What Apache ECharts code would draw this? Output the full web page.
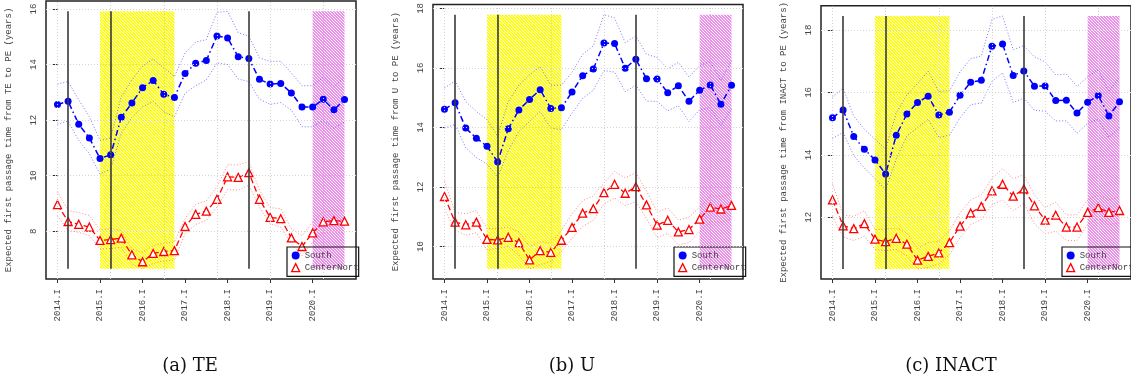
<!DOCTYPE html>
<html>
<head>
<meta charset="utf-8">
<script src="https://cdn.jsdelivr.net/npm/echarts@6/dist/echarts.min.js"></script>
<style>
  html, body { margin: 0; padding: 0; background: #fff; }
  #chart { width: 1131px; height: 377px; }
</style>
</head>
<body>
<div id="chart"></div>
<script>
// quarters 2014.I .. 2020.IV
var quarterIdx = [0, 1, 2, 3, 4, 5, 6, 7, 8, 9, 10, 11, 12, 13, 14, 15, 16, 17, 18, 19, 20, 21, 22, 23, 24, 25, 26, 27];
var tickPos = [0, 4, 8, 12, 16, 20, 24];
var tickLabels = ["2014.I", "2015.I", "2016.I", "2017.I", "2018.I", "2019.I", "2020.I"];
var gridX = [0, 5, 10, 15, 20, 25];
var eventLines = [1, 5, 18];
var yellowBand = [4, 11];
var magentaBand = [24, 27];
var legendNames = ["South", "CenterNorth"];

// TE
var teSouth = [12.56, 12.68, 11.85, 11.36, 10.62, 10.75, 12.10, 12.62, 13.17, 13.43, 12.93, 12.82, 13.68, 14.05, 14.15, 15.03, 14.96, 14.28, 14.22, 13.47, 13.30, 13.32, 12.98, 12.47, 12.47, 12.75, 12.37, 12.74];
var teSouthHi = [13.30, 13.39, 12.73, 12.12, 11.27, 11.35, 12.85, 13.45, 13.94, 14.20, 13.88, 13.57, 14.42, 14.81, 14.90, 15.88, 15.92, 15.15, 15.03, 14.24, 14.12, 14.12, 13.70, 13.24, 13.24, 13.55, 13.19, 13.55];
var teSouthLo = [11.85, 11.97, 11.27, 10.79, 10.06, 10.24, 11.52, 12.10, 12.48, 12.67, 12.30, 12.12, 12.97, 13.24, 13.45, 14.06, 14.00, 13.48, 13.39, 12.75, 12.57, 12.63, 12.36, 11.76, 11.76, 12.00, 11.70, 11.94];
var teNorth = [8.96, 8.35, 8.25, 8.15, 7.67, 7.70, 7.75, 7.15, 6.90, 7.20, 7.27, 7.30, 8.17, 8.61, 8.72, 9.15, 9.96, 9.94, 10.11, 9.15, 8.50, 8.45, 7.76, 7.45, 7.94, 8.34, 8.38, 8.36];
var teNorthHi = [9.42, 8.75, 8.67, 8.57, 8.05, 8.10, 8.02, 7.36, 7.24, 7.48, 7.56, 7.62, 8.45, 8.97, 9.09, 9.60, 10.39, 10.39, 10.51, 9.48, 8.85, 8.81, 8.09, 7.84, 8.33, 8.69, 8.75, 8.73];
var teNorthLo = [8.55, 8.03, 7.96, 7.84, 7.36, 7.38, 7.42, 6.81, 6.65, 6.84, 6.93, 6.96, 7.91, 8.24, 8.39, 8.87, 9.50, 9.48, 9.66, 8.87, 8.27, 8.15, 7.54, 7.12, 7.60, 7.96, 8.00, 7.96];

// U
var uSouth = [14.61, 14.83, 13.98, 13.64, 13.37, 12.84, 13.96, 14.59, 14.94, 15.27, 14.64, 14.66, 15.19, 15.74, 15.96, 16.84, 16.82, 15.99, 16.29, 15.64, 15.63, 15.17, 15.40, 14.88, 15.25, 15.43, 14.78, 15.42];
var uSouthHi = [15.33, 15.56, 14.87, 14.54, 14.26, 13.71, 14.87, 15.42, 15.77, 16.05, 15.42, 15.42, 15.86, 16.46, 16.74, 17.79, 17.68, 16.85, 17.07, 16.46, 16.35, 15.97, 16.19, 15.69, 16.08, 16.22, 15.58, 16.24];
var uSouthLo = [13.98, 14.10, 13.32, 12.99, 12.77, 12.33, 13.21, 13.87, 14.20, 14.54, 13.98, 13.93, 14.48, 14.98, 15.25, 15.91, 15.86, 15.20, 15.42, 14.89, 14.87, 14.56, 14.73, 14.20, 14.59, 14.67, 14.07, 14.62];
var uNorth = [11.68, 10.82, 10.73, 10.82, 10.24, 10.22, 10.31, 10.13, 9.55, 9.86, 9.80, 10.21, 10.64, 11.12, 11.27, 11.81, 12.09, 11.79, 12.01, 11.40, 10.72, 10.88, 10.49, 10.57, 10.92, 11.32, 11.26, 11.38];
var uNorthHi = [12.20, 11.15, 11.10, 11.21, 10.60, 10.60, 10.65, 10.49, 10.00, 10.16, 10.11, 10.55, 11.10, 11.54, 11.70, 12.14, 12.52, 12.31, 12.47, 11.87, 11.15, 11.30, 10.88, 10.99, 11.32, 11.70, 11.67, 11.78];
var uNorthLo = [11.26, 10.55, 10.38, 10.46, 9.88, 9.94, 10.00, 9.72, 9.25, 9.39, 9.50, 9.83, 10.27, 10.68, 10.88, 11.43, 11.63, 11.37, 11.51, 10.93, 10.30, 10.44, 10.05, 10.13, 10.49, 10.84, 10.82, 10.93];

// INACT
var inSouth = [15.19, 15.44, 14.59, 14.18, 13.84, 13.39, 14.63, 15.31, 15.68, 15.88, 15.28, 15.37, 15.91, 16.33, 16.39, 17.48, 17.55, 16.54, 16.69, 16.20, 16.21, 15.74, 15.75, 15.34, 15.69, 15.90, 15.25, 15.70];
var inSouthHi = [15.85, 16.14, 15.24, 14.82, 14.50, 14.19, 15.35, 15.92, 16.29, 16.68, 16.03, 16.06, 16.66, 17.08, 17.17, 18.34, 18.45, 17.37, 17.50, 17.14, 16.98, 16.56, 16.59, 16.19, 16.50, 16.73, 16.03, 16.50];
var inSouthLo = [14.53, 14.72, 13.98, 13.58, 13.24, 12.88, 13.87, 14.61, 14.87, 15.14, 14.56, 14.63, 15.19, 15.61, 15.66, 16.35, 16.63, 15.68, 15.82, 15.43, 15.40, 15.09, 15.09, 14.69, 15.01, 15.14, 14.56, 14.87];
var inNorth = [12.56, 11.73, 11.64, 11.80, 11.30, 11.22, 11.33, 11.14, 10.63, 10.75, 10.86, 11.19, 11.72, 12.14, 12.35, 12.85, 13.06, 12.68, 12.91, 12.37, 11.91, 12.07, 11.69, 11.69, 12.16, 12.31, 12.16, 12.22];
var inNorthHi = [13.08, 12.08, 12.03, 12.21, 11.61, 11.63, 11.66, 11.50, 11.00, 11.19, 11.24, 11.56, 12.14, 12.56, 12.72, 13.25, 13.56, 13.24, 13.37, 12.72, 12.32, 12.48, 12.08, 12.08, 12.56, 12.72, 12.56, 12.66];
var inNorthLo = [12.03, 11.37, 11.26, 11.40, 10.98, 10.93, 10.98, 10.77, 10.35, 10.40, 10.51, 10.80, 11.35, 11.77, 11.93, 12.40, 12.56, 12.21, 12.45, 11.79, 11.47, 11.56, 11.26, 11.26, 11.77, 11.96, 11.77, 11.82];

var yTicksTE = [8, 10, 12, 14, 16];
var yTicksU = [10, 12, 14, 16, 18];
var yTicksIN = [12, 14, 16, 18];

var panels = [
  { code: "TE", caption: "(a) TE", left: 46, capX: 190, yTicks: yTicksTE,
    s: [teSouth, teSouthHi, teSouthLo], n: [teNorth, teNorthHi, teNorthLo] },
  { code: "U", caption: "(b) U", left: 433, capX: 572, yTicks: yTicksU,
    s: [uSouth, uSouthHi, uSouthLo], n: [uNorth, uNorthHi, uNorthLo] },
  { code: "INACT", caption: "(c) INACT", left: 821, capX: 951, yTicks: yTicksIN,
    s: [inSouth, inSouthHi, inSouthLo], n: [inNorth, inNorthHi, inNorthLo] }
];

var MONO = "Liberation Mono";
var plotW = 310, plotTop = 1, plotH = 278;

// diagonal hatching like R's density shading
function hatch(color) {
  var c = document.createElement("canvas");
  c.width = 3; c.height = 3;
  var ctx = c.getContext("2d");
  for (var x = 0; x < 3; x++) {
    for (var y = 0; y < 3; y++) {
      ctx.fillStyle = ((x - y + 3) % 3 === 0) ? "#ffffff" : color;
      ctx.fillRect(x, y, 1, 1);
    }
  }
  return { image: c, repeat: "repeat" };
}
var yellowFill = hatch("#ffff00");
var magentaFill = hatch("#ee8cee");

function pairs(arr) {
  return arr.map(function (v, i) { return [quarterIdx[i], v]; });
}

var grids = [], xAxes = [], yAxes = [], series = [], legends = [], graphics = [];

panels.forEach(function (p, k) {
  var all = p.s.concat(p.n).reduce(function (a, b) { return a.concat(b); }, []);
  var lo = Math.min.apply(null, all), hi = Math.max.apply(null, all);
  var pad = (hi - lo) * 0.04;

  grids.push({ left: p.left, top: plotTop, width: plotW, height: plotH,
    show: true, borderColor: "#222", borderWidth: 1.5, backgroundColor: "transparent" });

  xAxes.push({
    type: "value", gridIndex: k, min: -1.08, max: 28.08,
    axisLine: { show: false },
    splitLine: { show: false },
    axisTick: { show: true, length: 4, customValues: tickPos, lineStyle: { color: "#333", width: 1 } },
    axisLabel: {
      customValues: tickPos, rotate: 90, margin: 10,
      fontFamily: MONO, fontSize: 9, color: "#444",
      formatter: function (v) { return tickLabels[tickPos.indexOf(v)]; }
    }
  });

  yAxes.push({
    type: "value", gridIndex: k, min: lo - pad, max: hi + pad,
    name: "Expected first passage time from " + p.code + " to PE (years)",
    nameLocation: "middle", nameGap: 33,
    nameTextStyle: { fontFamily: MONO, fontSize: 9, color: "#444" },
    axisLine: { show: false },
    splitLine: { show: false },
    axisTick: { show: true, length: 5, customValues: p.yTicks, lineStyle: { color: "#333", width: 1 } },
    axisLabel: { customValues: p.yTicks, rotate: 90, margin: 8,
      fontFamily: MONO, fontSize: 9, color: "#444" }
  });

  // dotted grid
  series.push({
    type: "line", name: "grid" + k, xAxisIndex: k, yAxisIndex: k, data: [], z: 0,
    silent: true, animation: false,
    markLine: {
      silent: true, symbol: ["none", "none"], label: { show: false }, animation: false,
      lineStyle: { color: "#d4d4d4", width: 1, type: [1, 2] },
      data: gridX.map(function (v) { return { xAxis: v }; })
        .concat(p.yTicks.map(function (v) { return { yAxis: v }; }))
    }
  });

  // shaded periods + event lines
  series.push({
    type: "line", name: "events" + k, xAxisIndex: k, yAxisIndex: k, data: [], z: 1,
    silent: true, animation: false,
    markArea: {
      silent: true, animation: false,
      data: [
        [{ coord: [yellowBand[0], lo], itemStyle: { color: yellowFill } }, { coord: [yellowBand[1], hi] }],
        [{ coord: [magentaBand[0], lo], itemStyle: { color: magentaFill } }, { coord: [magentaBand[1], hi] }]
      ]
    },
    markLine: {
      silent: true, symbol: ["none", "none"], label: { show: false }, animation: false,
      lineStyle: { color: "#3a3a3a", width: 1.6, type: "solid" },
      data: eventLines.map(function (q) { return [{ coord: [q, lo] }, { coord: [q, hi] }]; })
    }
  });

  var ci = function (name, arr, color) {
    return { type: "line", name: name, xAxisIndex: k, yAxisIndex: k, data: pairs(arr), z: 2,
      showSymbol: false, silent: true, animation: false,
      lineStyle: { color: color, width: 1, type: [1, 2] } };
  };
  series.push(ci("South hi", p.s[1], "rgba(60,60,255,0.7)"));
  series.push(ci("South lo", p.s[2], "rgba(60,60,255,0.7)"));
  series.push(ci("CenterNorth hi", p.n[1], "rgba(255,70,70,0.65)"));
  series.push(ci("CenterNorth lo", p.n[2], "rgba(255,70,70,0.65)"));

  series.push({
    type: "line", name: legendNames[0], xAxisIndex: k, yAxisIndex: k, data: pairs(p.s[0]), z: 3,
    symbol: "circle", symbolSize: 7, animation: false,
    itemStyle: { color: "#0000ff" },
    lineStyle: { color: "#0000ff", width: 1.5, type: [6, 3, 1.5, 3] }
  });
  series.push({
    type: "line", name: legendNames[1], xAxisIndex: k, yAxisIndex: k, data: pairs(p.n[0]), z: 3,
    symbol: "triangle", symbolSize: 8, animation: false,
    itemStyle: { color: "#ffffff", borderColor: "#ff0000", borderWidth: 1.3 },
    lineStyle: { color: "#ff0000", width: 1.3, type: [6, 3] }
  });

  legends.push({
    orient: "vertical", left: p.left + 241, top: 247,
    padding: [4, 0, 4, 4], itemGap: 3, itemWidth: 8, itemHeight: 8,
    borderColor: "#111", borderWidth: 1.2, backgroundColor: "transparent",
    selectedMode: false,
    textStyle: { fontFamily: MONO, fontSize: 9, color: "#444", width: 60, overflow: "truncate", ellipsis: "" },
    data: [
      { name: legendNames[0], icon: "circle", itemStyle: { color: "#0000ff" } },
      { name: legendNames[1], icon: "triangle",
        itemStyle: { color: "#ffffff", borderColor: "#ff0000", borderWidth: 1.3 } }
    ]
  });

  graphics.push({
    type: "text", x: p.capX, y: 366,
    style: { text: p.caption, font: "18px 'DejaVu Serif'", fill: "#111",
      textAlign: "center", textVerticalAlign: "middle" }
  });
});

var chart = echarts.init(document.getElementById("chart"));
chart.setOption({
  animation: false,
  grid: grids,
  xAxis: xAxes,
  yAxis: yAxes,
  legend: legends,
  series: series,
  graphic: graphics
});
</script>
</body>
</html>
